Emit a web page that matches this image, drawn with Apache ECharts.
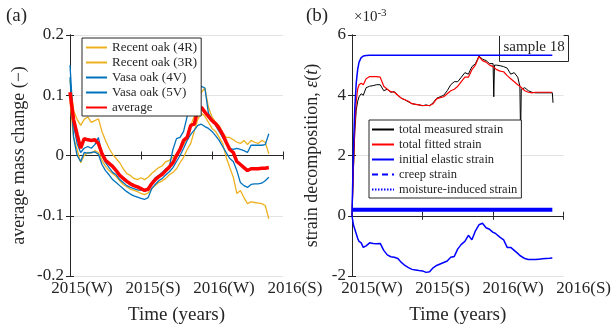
<!DOCTYPE html>
<html>
<head>
<meta charset="utf-8">
<script src="https://cdn.jsdelivr.net/npm/echarts@6/dist/echarts.min.js"></script>
<style>
  html, body { margin: 0; padding: 0; background: #fff; }
  #chart { width: 614px; height: 336px; }
</style>
</head>
<body>
<div id="chart"></div>
<script>
// tick labels for both time axes
const timeTicks = ['2015(W)', '2015(S)', '2016(W)', '2016(S)'];

// panel (a): mass change
const timeMass = [0, 0.05, 0.1, 0.15, 0.2, 0.25, 0.3, 0.35, 0.4, 0.45, 0.5, 0.55, 0.6, 0.65, 0.7, 0.75, 0.8, 0.85, 0.9, 0.95,
    1.0, 1.05, 1.1, 1.15, 1.2, 1.25, 1.3, 1.35, 1.4, 1.45, 1.5, 1.55, 1.6, 1.65, 1.7, 1.75, 1.8, 1.85, 1.9, 1.95,
    2.0, 2.05, 2.1, 2.15, 2.2, 2.25, 2.3, 2.35, 2.4, 2.45, 2.5, 2.55, 2.6, 2.65, 2.7, 2.75, 2.8];
const recentOak4R = [0.125, 0.075, 0.06, 0.05, 0.06, 0.064, 0.055, 0.058, 0.061, 0.04, 0.025, 0.012, 0.002, -0.005, -0.012, -0.022, -0.03, -0.033, -0.038, -0.04,
    -0.037, -0.04, -0.036, -0.03, -0.025, -0.02, -0.017, -0.01, -0.008, -0.003, 0.002, 0.01, 0.018, 0.03, 0.05, 0.065, 0.09, 0.105, 0.112, 0.08,
    0.064, 0.055, 0.05, 0.038, 0.03, 0.03, 0.026, 0.022, 0.02, 0.025, 0.018, 0.025, 0.022, 0.02, 0.025, 0.022, 0.003];
const recentOak3R = [0.09, 0.03, 0.01, -0.012, 0.0, 0.005, 0.004, 0.008, 0.005, -0.008, -0.018, -0.025, -0.03, -0.035, -0.042, -0.048, -0.052, -0.056, -0.058, -0.06,
    -0.063, -0.065, -0.062, -0.055, -0.05, -0.045, -0.042, -0.038, -0.032, -0.028, -0.022, -0.012, -0.003, 0.01, 0.02, 0.04, 0.06, 0.07, 0.065, 0.055,
    0.045, 0.04, 0.03, 0.02, -0.003, -0.02, -0.036, -0.063, -0.058, -0.07, -0.08, -0.077, -0.078, -0.079, -0.08, -0.083, -0.105];
const vasaOak4V = [0.15, 0.05, 0.02, 0.005, 0.012, 0.015, 0.012, 0.018, 0.03, 0.0, -0.012, -0.02, -0.028, -0.032, -0.04, -0.045, -0.05, -0.053, -0.055, -0.057,
    -0.058, -0.058, -0.056, -0.045, -0.037, -0.033, -0.028, -0.022, -0.018, 0.01, 0.028, 0.03, 0.04, 0.065, 0.095, 0.08, 0.105, 0.115, 0.112, 0.07,
    0.06, 0.05, 0.04, 0.03, 0.02, 0.012, 0.01, 0.012, 0.01, 0.008, 0.005, 0.017, 0.017, 0.017, 0.017, 0.018, 0.036];
const vasaOak5V = [0.13, 0.03, 0.0, -0.01, 0.005, 0.004, 0.005, 0.006, 0.002, -0.015, -0.025, -0.032, -0.04, -0.045, -0.05, -0.055, -0.06, -0.064, -0.067, -0.069,
    -0.071, -0.073, -0.07, -0.055, -0.048, -0.042, -0.038, -0.032, -0.027, -0.02, -0.01, 0.0, 0.012, 0.025, 0.035, 0.042, 0.05, 0.052, 0.048, 0.045,
    0.04, 0.033, 0.025, 0.015, 0.005, -0.005, -0.01, -0.025, -0.045, -0.05, -0.053, -0.048, -0.047, -0.047, -0.046, -0.042, -0.036];
const massAverage = [0.105, 0.06, 0.035, 0.012, 0.028, 0.026, 0.025, 0.026, 0.02, 0.003, -0.008, -0.013, -0.018, -0.025, -0.033, -0.038, -0.043, -0.047, -0.05, -0.052,
    -0.055, -0.058, -0.056, -0.047, -0.04, -0.035, -0.031, -0.025, -0.019, -0.012, 0.0, 0.01, 0.025, 0.03, 0.05, 0.052, 0.075, 0.08, 0.072, 0.065,
    0.058, 0.053, 0.045, 0.035, 0.022, 0.01, 0.005, -0.01, -0.015, -0.02, -0.025, -0.022, -0.022, -0.022, -0.021, -0.021, -0.02];

// panel (b): strain, in units of 1e-3
const timeStrain = [0, 0.02, 0.04, 0.06, 0.08, 0.1, 0.13, 0.16, 0.2, 0.25, 0.3, 0.35, 0.4, 0.45, 0.5, 0.55, 0.6, 0.65, 0.7, 0.75,
    0.8, 0.85, 0.9, 0.95, 1.0, 1.05, 1.1, 1.15, 1.2, 1.25, 1.3, 1.35, 1.4, 1.45, 1.5, 1.55, 1.6, 1.65, 1.7, 1.75,
    1.8, 1.85, 1.9, 1.95, 2.0, 2.01, 2.02, 2.03, 2.05, 2.1, 2.15, 2.2, 2.25, 2.3, 2.35, 2.38, 2.39, 2.4, 2.45, 2.5,
    2.55, 2.6, 2.65, 2.7, 2.75, 2.8, 2.84, 2.85];
const measuredStrain = [0, 1.5, 2.8, 3.5, 3.8, 3.95, 4.05, 4.0, 4.25, 4.3, 4.32, 4.35, 4.35, 4.15, 4.2, 4.1, 4.12, 4.0, 3.9, 3.85,
    3.78, 3.72, 3.7, 3.68, 3.65, 3.68, 3.65, 3.75, 3.9, 3.95, 4.0, 4.15, 4.35, 4.45, 4.45, 4.6, 4.75, 4.7, 4.95, 5.05,
    5.3, 5.2, 5.15, 5.05, 5.05, 3.95, 5.0, 5.0, 5.0, 4.98, 4.95, 4.9, 4.7, 4.75, 4.6, 4.3, 2.65, 4.2, 4.25, 4.15,
    4.1, 4.08, 4.08, 4.08, 4.08, 4.08, 4.08, 3.75];
const fittedStrain = [0, 1.6, 3.0, 3.8, 4.2, 4.35, 4.4, 4.35, 4.55, 4.62, 4.62, 4.62, 4.6, 4.3, 4.2, 4.12, 4.1, 4.0, 3.9, 3.85,
    3.8, 3.72, 3.7, 3.68, 3.66, 3.66, 3.66, 3.72, 3.88, 3.92, 3.95, 4.05, 4.15, 4.2, 4.3, 4.45, 4.6, 4.6, 4.85, 5.0,
    5.28, 5.15, 5.1, 5.0, 4.95, 4.95, 4.9, 4.9, 4.85, 4.8, 4.78, 4.65, 4.55, 4.45, 4.35, 4.3, 4.28, 4.25, 4.15, 4.1,
    4.08, 4.1, 4.1, 4.1, 4.1, 4.1, 4.1, 4.1];
const elasticStrain = [0.2, 0.2, 0.2, 0.2, 0.2, 0.2, 0.2, 0.2, 0.2, 0.2, 0.2, 0.2, 0.2, 0.2, 0.2, 0.2, 0.2, 0.2, 0.2, 0.2,
    0.2, 0.2, 0.2, 0.2, 0.2, 0.2, 0.2, 0.2, 0.2, 0.2, 0.2, 0.2, 0.2, 0.2, 0.2, 0.2, 0.2, 0.2, 0.2, 0.2,
    0.2, 0.2, 0.2, 0.2, 0.2, 0.2, 0.2, 0.2, 0.2, 0.2, 0.2, 0.2, 0.2, 0.2, 0.2, 0.2, 0.2, 0.2, 0.2, 0.2,
    0.2, 0.2, 0.2, 0.2, 0.2, 0.2, 0.2, 0.2];
const creepStrain = [0, 2.2, 3.6, 4.4, 4.85, 5.1, 5.25, 5.3, 5.32, 5.33, 5.33, 5.33, 5.33, 5.33, 5.33, 5.33, 5.33, 5.33, 5.33, 5.33,
    5.33, 5.33, 5.33, 5.33, 5.33, 5.33, 5.33, 5.33, 5.33, 5.33, 5.33, 5.33, 5.33, 5.33, 5.33, 5.33, 5.33, 5.33, 5.33, 5.33,
    5.33, 5.33, 5.33, 5.33, 5.33, 5.33, 5.33, 5.33, 5.33, 5.33, 5.33, 5.33, 5.33, 5.33, 5.33, 5.33, 5.33, 5.33, 5.33, 5.33,
    5.33, 5.33, 5.33, 5.33, 5.33, 5.33, 5.33, 5.33];
const moistureStrain = [0, -0.3, -0.45, -0.6, -0.75, -0.85, -0.9, -1.05, -1.0, -0.9, -0.92, -0.93, -0.92, -1.15, -1.3, -1.36, -1.38, -1.42, -1.55, -1.65,
    -1.72, -1.78, -1.8, -1.82, -1.83, -1.88, -1.86, -1.73, -1.65, -1.6, -1.55, -1.5, -1.38, -1.35, -1.1, -0.95, -0.85, -0.65, -0.8, -0.5,
    -0.3, -0.25, -0.4, -0.45, -0.55, -0.55, -0.56, -0.58, -0.62, -0.72, -0.8, -1.05, -1.05, -1.15, -1.25, -1.32, -1.34, -1.35, -1.42, -1.45,
    -1.45, -1.45, -1.44, -1.43, -1.42, -1.41, -1.4, -1.4];

const serif = '"Liberation Serif", "DejaVu Serif", serif';
const ink = '#262626';
const orange = '#EDB120';
const steel = '#0072BD';

function pairs(ts, vs) {
    return ts.map((t, i) => [t, vs[i]]);
}

function timeAxis(grid) {
    return {
        type: 'value', gridIndex: grid, min: 0, max: 3, interval: 1,
        name: 'Time (years)', nameLocation: 'middle', nameGap: 30,
        nameTextStyle: { fontFamily: serif, fontSize: 19, color: ink },
        axisLine: { lineStyle: { color: ink } },
        axisTick: { inside: true, length: 4, lineStyle: { color: ink } },
        axisLabel: {
            fontFamily: serif, fontSize: 17, color: ink, margin: 4,
            padding: grid === 0 ? [0, 0, 0, 24] : [0, 0, 0, 40],
            formatter: v => timeTicks[Math.round(v)]
        },
        splitLine: { show: false }
    };
}

function mirrorX(grid) {
    return {
        type: 'value', gridIndex: grid, min: 0, max: 3, interval: 1, position: 'top',
        axisLine: { lineStyle: { color: ink } },
        axisTick: { inside: true, length: 4, lineStyle: { color: ink } },
        axisLabel: { show: false }, splitLine: { show: false }
    };
}

function mirrorY(grid, min, max, step) {
    return {
        type: 'value', gridIndex: grid, min: min, max: max, interval: step, position: 'right',
        axisLine: { show: true, lineStyle: { color: ink } },
        axisTick: { show: true, inside: true, length: 4, lineStyle: { color: ink } },
        axisLabel: { show: false }, splitLine: { show: false }
    };
}

function line(name, xi, yi, data, color, width, type) {
    return {
        name: name, type: 'line', xAxisIndex: xi, yAxisIndex: yi,
        data: data, showSymbol: false, symbol: 'none',
        lineStyle: { color: color, width: width, type: type || 'solid' },
        itemStyle: { color: color }
    };
}

// legend icons: line only, no marker
const legendMarkerOff = { color: 'rgba(0,0,0,0)', borderWidth: 0, opacity: 0 };

const chart = echarts.init(document.getElementById('chart'));
chart.setOption({
    animation: false,
    backgroundColor: '#fff',
    grid: [
        { left: 70, top: 35, width: 213, height: 241 },
        { left: 352, top: 35, width: 217, height: 241 }
    ],
    xAxis: [timeAxis(0), timeAxis(1), mirrorX(0), mirrorX(1)],
    yAxis: [
        {
            type: 'value', gridIndex: 0, min: -0.2, max: 0.2, interval: 0.1,
            name: 'average mass change (\u2212)', nameLocation: 'middle', nameGap: 42,
            nameTextStyle: { fontFamily: serif, fontSize: 18, color: ink },
            axisLine: { show: true, lineStyle: { color: ink } },
            axisTick: { show: true, inside: true, length: 4, lineStyle: { color: ink } },
            axisLabel: { fontFamily: serif, fontSize: 17, color: ink, margin: 6 },
            splitLine: { show: true, lineStyle: { color: '#e3e3e3' } }
        },
        {
            type: 'value', gridIndex: 1, min: -2, max: 6, interval: 2,
            name: 'strain decomposition, {i|\u03b5}({i|t})', nameLocation: 'middle', nameGap: 31,
            nameTextStyle: {
                fontFamily: serif, fontSize: 18, color: ink,
                rich: { i: { fontFamily: serif, fontSize: 18, fontStyle: 'italic', color: ink } }
            },
            axisLine: { show: true, lineStyle: { color: ink } },
            axisTick: { show: true, inside: true, length: 4, lineStyle: { color: ink } },
            axisLabel: { fontFamily: serif, fontSize: 17, color: ink, margin: 6 },
            splitLine: { show: true, lineStyle: { color: '#e3e3e3' } }
        },
        mirrorY(0, -0.2, 0.2, 0.1),
        mirrorY(1, -2, 6, 2)
    ],
    legend: [
        {
            left: 82, top: 38, orient: 'vertical', itemGap: 2, itemWidth: 21, itemHeight: 12,
            padding: [3, 4, 2, 3], backgroundColor: '#fff', borderColor: ink, borderWidth: 1,
            itemStyle: legendMarkerOff,
            textStyle: { fontFamily: serif, fontSize: 13, color: ink },
            data: ['Recent oak (4R)', 'Recent oak (3R)', 'Vasa oak (4V)', 'Vasa oak (5V)', 'average']
        },
        {
            left: 369, top: 120, orient: 'vertical', itemGap: 2, itemWidth: 22, itemHeight: 12,
            padding: [3, 4, 2, 2], backgroundColor: '#fff', borderColor: ink, borderWidth: 1,
            itemStyle: legendMarkerOff,
            textStyle: { fontFamily: serif, fontSize: 12.5, color: ink },
            data: [
                'total measured strain', 'total fitted strain', 'initial elastic strain',
                { name: 'creep strain', lineStyle: { type: [6, 4] } },
                { name: 'moisture-induced strain', lineStyle: { type: [1.5, 1.5] } }
            ]
        }
    ],
    graphic: [
        { type: 'text', left: 6, top: 7, style: { text: '(a)', font: '19px ' + serif, fill: ink } },
        { type: 'text', left: 306, top: 7, style: { text: '(b)', font: '19px ' + serif, fill: ink } },
        {
            type: 'text', left: 354, top: 8,
            style: {
                text: '{m|\u00d710}{s|-3}', fill: ink,
                rich: {
                    m: { fontFamily: serif, fontSize: 15, fill: ink },
                    s: { fontFamily: serif, fontSize: 11, fill: ink, verticalAlign: 'top', padding: [0, 0, 8, 0] }
                }
            }
        },
        {
            type: 'group', left: 499, top: 35, z: 50,
            children: [
                { type: 'rect', shape: { x: 0, y: 0, width: 69, height: 26 }, style: { fill: 'transparent', stroke: ink, lineWidth: 1 } },
                { type: 'text', x: 4, y: 4, style: { text: 'sample 18', font: '15px ' + serif, fill: ink } }
            ]
        }
    ],
    series: [
        line('Recent oak (4R)', 0, 0, pairs(timeMass, recentOak4R), orange, 1.3),
        line('Recent oak (3R)', 0, 0, pairs(timeMass, recentOak3R), orange, 1.3),
        line('Vasa oak (4V)', 0, 0, pairs(timeMass, vasaOak4V), steel, 1.3),
        line('Vasa oak (5V)', 0, 0, pairs(timeMass, vasaOak5V), steel, 1.3),
        line('average', 0, 0, pairs(timeMass, massAverage), '#ff0000', 3.5),
        line('total measured strain', 1, 1, pairs(timeStrain, measuredStrain), '#000000', 1),
        line('total fitted strain', 1, 1, pairs(timeStrain, fittedStrain), '#ff0000', 1.2),
        line('initial elastic strain', 1, 1, pairs(timeStrain, elasticStrain), '#0000ff', 4),
        line('creep strain', 1, 1, pairs(timeStrain, creepStrain), '#0000ff', 1.5),
        line('moisture-induced strain', 1, 1, pairs(timeStrain, moistureStrain), '#0000ff', 1.5)
    ]
});
</script>
</body>
</html>
